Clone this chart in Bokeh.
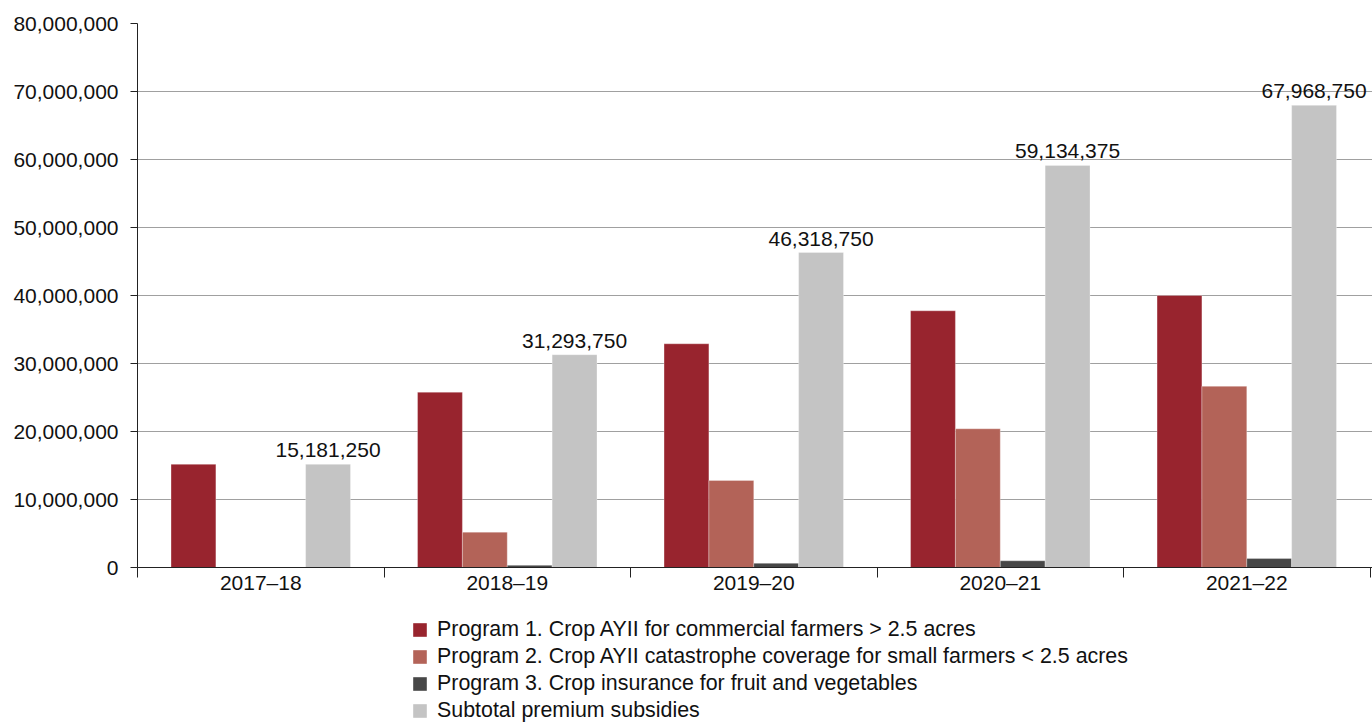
from bokeh.plotting import figure
from bokeh.layouts import column
from bokeh.models import (ColumnDataSource, FixedTicker, NumeralTickFormatter, Range1d,
                          Legend, LegendItem, LabelSet)
from bokeh.core.properties import value
from bokeh.transform import dodge
from bokeh.embed import file_html
from bokeh.resources import INLINE

years = ["2017\u201318", "2018\u201319", "2019\u201320", "2020\u201321", "2021\u201322"]
program1 = [15181250, 25780000, 32900000, 37750000, 40000000]
program2 = [0, 5200000, 12800000, 20400000, 26650000]
program3 = [0, 313750, 618750, 984375, 1318750]
subtotal = [15181250, 31293750, 46318750, 59134375, 67968750]
subtotal_labels = ["15,181,250", "31,293,750", "46,318,750", "59,134,375", "67,968,750"]

series_names = [
    "Program 1. Crop AYII for commercial farmers > 2.5 acres",
    "Program 2. Crop AYII catastrophe coverage for small farmers < 2.5 acres",
    "Program 3. Crop insurance for fruit and vegetables",
    "Subtotal premium subsidies",
]
colors = ["#98242e", "#b36358", "#474747", "#c4c4c4"]

FONT = "Liberation Sans"

src = ColumnDataSource(dict(
    xc=[i + 0.5 for i in range(len(years))],
    p1=program1, p2=program2, p3=program3, st=subtotal, lab=subtotal_labels,
))

p = figure(width=1372, height=614, output_backend="svg", toolbar_location=None,
           x_range=Range1d(0, 5.01), y_range=Range1d(0, 80000000),
           min_border_left=137, min_border_right=0, min_border_top=23,
           min_border_bottom=47)
p.outline_line_color = None
p.background_fill_color = "white"
p.border_fill_color = "white"

bw = 0.182
offs = [-1.5 * bw, -0.5 * bw, 0.5 * bw, 1.5 * bw]
cols = ["p1", "p2", "p3", "st"]
for c, o, col in zip(cols, offs, colors):
    p.vbar(x=dodge("xc", o, range=p.x_range), top=c, width=bw, source=src,
           fill_color=col, line_color="white", line_width=0.5, line_alpha=0.6)

labels = LabelSet(x=dodge("xc", offs[3], range=p.x_range), y="st", text="lab", source=src,
                  text_align="center", text_baseline="bottom", y_offset=7,
                  text_font=value(FONT), text_font_size=value("21px"),
                  text_color="#111111")
p.add_layout(labels)

# y axis
p.yaxis.ticker = FixedTicker(ticks=list(range(0, 80000001, 10000000)))
p.yaxis.formatter = NumeralTickFormatter(format="0,0")
p.yaxis.major_label_text_font = FONT
p.yaxis.major_label_text_font_size = "21px"
p.yaxis.major_label_text_color = "#111111"
p.yaxis.axis_line_color = "#222222"
p.yaxis.major_tick_line_color = "#222222"
p.yaxis.major_tick_out = 7
p.yaxis.major_tick_in = 0
p.yaxis.minor_tick_line_color = None
p.yaxis.major_label_standoff = 12

# x axis
p.xaxis.ticker = FixedTicker(ticks=[i + 0.5 for i in range(len(years))],
                             minor_ticks=list(range(len(years) + 1)))
p.xaxis.major_label_overrides = {i + 0.5: y for i, y in enumerate(years)}
p.xaxis.major_tick_line_color = None
p.xaxis.major_tick_out = 0
p.xaxis.major_tick_in = 0
p.xaxis.minor_tick_line_color = "#222222"
p.xaxis.minor_tick_out = 10
p.xaxis.minor_tick_in = 0
p.xaxis.axis_line_color = "#222222"
p.xaxis.major_label_text_font = FONT
p.xaxis.major_label_text_font_size = "21px"
p.xaxis.major_label_text_color = "#111111"
p.xaxis.major_label_standoff = -7

p.xgrid.grid_line_color = None
p.ygrid.ticker = FixedTicker(ticks=list(range(10000000, 80000001, 10000000)))
p.ygrid.grid_line_color = "#a0a0a0"
p.ygrid.grid_line_width = 1

# legend panel
lg = figure(width=1372, height=109, output_backend="svg", toolbar_location=None,
            x_range=Range1d(0, 1), y_range=Range1d(0, 1),
            min_border=0, x_axis_type=None, y_axis_type=None)
lg.outline_line_color = None
lg.grid.grid_line_color = None
swatch = ColumnDataSource(dict(x=[0.5], top=[0]))
dummies = [lg.vbar(x="x", top="top", width=0.01, source=swatch, fill_color=col,
                   line_color=None) for col in colors]
items = [LegendItem(label=n, renderers=[r]) for n, r in zip(series_names, dummies)]
legend = Legend(items=items, orientation="vertical", location=(274, 0),
                label_text_font=FONT, label_text_font_size="21.4px",
                label_text_color="#111111",
                glyph_width=17, glyph_height=17, label_height=20, label_standoff=9,
                spacing=2, padding=0, margin=0, border_line_color=None,
                background_fill_alpha=0)
lg.add_layout(legend, "center")

layout = column(p, lg, spacing=0)
open("out.html", "w").write(file_html(layout, INLINE))
